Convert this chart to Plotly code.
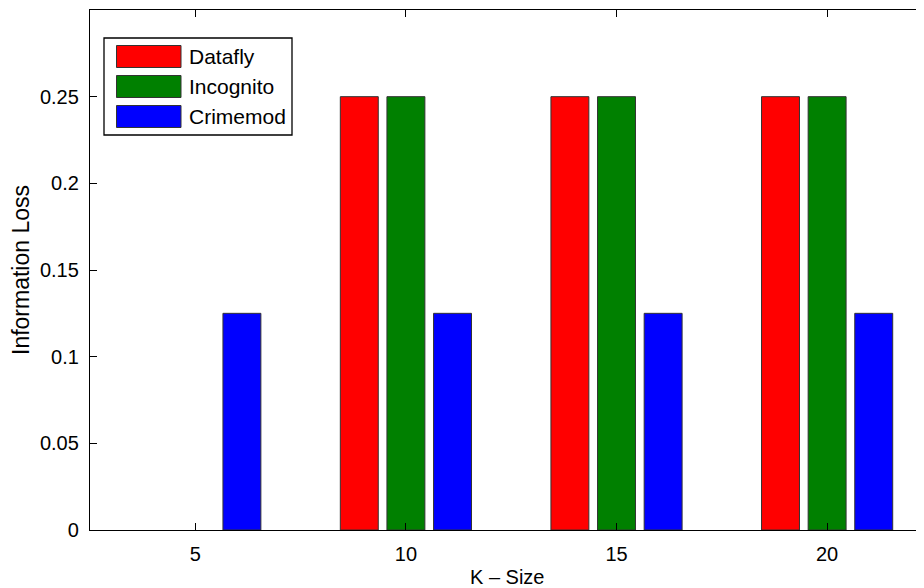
import plotly.graph_objects as go

k_sizes = [5, 10, 15, 20]
datafly = [0, 0.25, 0.25, 0.25]
incognito = [0, 0.25, 0.25, 0.25]
crimemod = [0.125, 0.125, 0.125, 0.125]
series_names = ["Datafly", "Incognito", "Crimemod"]
series_colors = ["#FF0000", "#008000", "#0000FF"]
y_ticks = [0, 0.05, 0.1, 0.15, 0.2, 0.25]
y_tick_text = ["0", "0.05", "0.1", "0.15", "0.2", "0.25"]
x_ticks = [5, 10, 15, 20]

# page has an 8px body margin, so the figure is drawn 8px in from the top-left
OFF = 8
W, H = 924 - OFF, 588 - OFF
ML, MR, MT, MB = 90 - OFF, 0, 10 - OFF, 58
PW, PH = W - ML - MR, H - MT - MB

FAM = "Liberation Sans, Arial, Helvetica, sans-serif"
FONT = dict(family=FAM, size=20, color="#000000")
LEG_FONT = dict(family=FAM, size=21, color="#000000")
YLAB_FONT = dict(family=FAM, size=23, color="#000000")

fig = go.Figure()
for name, vals, col in zip(series_names, [datafly, incognito, crimemod], series_colors):
    fig.add_trace(go.Bar(
        x=k_sizes, y=vals, name=name,
        marker=dict(color=col, line=dict(color="#333333",
                                         width=[0 if v == 0 else 1 for v in vals])),
        showlegend=False,
    ))

def px_x(px):
    # px in page coordinates
    return (px - OFF - ML) / PW

def px_y(py):
    return (H - MB - (py - OFF)) / PH

shapes = []
annotations = []
shapes.append(dict(type="rect", xref="paper", yref="paper",
                   x0=px_x(104), x1=px_x(292), y0=px_y(135), y1=px_y(38),
                   line=dict(color="#000000", width=1.3), fillcolor="#FFFFFF", layer="above"))
for i, (name, col) in enumerate(zip(series_names, series_colors)):
    top = 45.5 + 30 * i
    shapes.append(dict(type="rect", xref="paper", yref="paper",
                       x0=px_x(116.5), x1=px_x(181), y0=px_y(top + 22), y1=px_y(top),
                       line=dict(color="#333333", width=1), fillcolor=col, layer="above"))
    annotations.append(dict(xref="paper", yref="paper", x=px_x(187), y=px_y(top + 11),
                            text=name, showarrow=False, xanchor="left", yanchor="middle",
                            font=LEG_FONT))

annotations.append(dict(xref="paper", yref="paper", x=0.5, y=px_y(577), text="K – Size",
                        showarrow=False, xanchor="center", yanchor="middle", font=FONT))
annotations.append(dict(xref="paper", yref="paper", x=px_x(21), y=0.5, text="Information Loss",
                        textangle=-90, showarrow=False, xanchor="center", yanchor="middle",
                        font=YLAB_FONT))

fig.update_layout(
    width=W, height=H,
    margin=dict(l=ML, r=MR, t=MT, b=MB, autoexpand=False),
    paper_bgcolor="#FFFFFF", plot_bgcolor="#FFFFFF",
    barmode="group", bargap=0.336, bargroupgap=0.186,
    font=FONT,
    shapes=shapes, annotations=annotations,
)
fig.update_xaxes(
    range=[2.5, 22.3], tickvals=x_ticks, ticktext=[str(v) for v in x_ticks],
    showgrid=False, zeroline=False, showline=True, linecolor="#000000", linewidth=1.3,
    mirror="ticks", ticks="inside", ticklen=7, tickcolor="#000000", tickwidth=1,
    ticklabelstandoff=6, tickfont=FONT,
)
fig.update_yaxes(
    range=[0, 0.3], tickvals=y_ticks, ticktext=y_tick_text,
    showgrid=False, zeroline=False, showline=True, linecolor="#000000", linewidth=1.3,
    mirror=False, ticks="inside", ticklen=7, tickcolor="#000000", tickwidth=1,
    ticklabelstandoff=6, tickfont=FONT,
)

fig.write_html("out.html")
